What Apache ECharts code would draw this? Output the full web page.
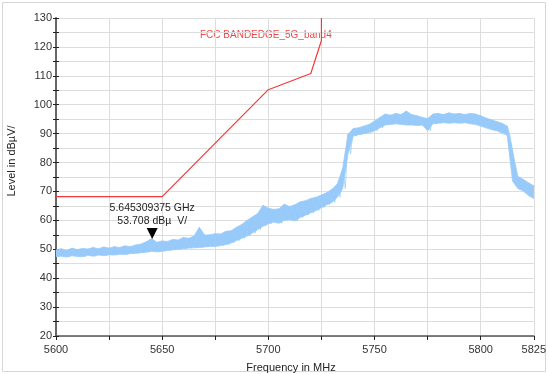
<!DOCTYPE html>
<html><head><meta charset="utf-8">
<script src="https://cdn.jsdelivr.net/npm/echarts@6/dist/echarts.min.js"></script>
<style>html,body{margin:0;padding:0;background:#fff}#c{width:549px;height:374px}</style>
</head><body><div id="c"></div>
<script>
// Frequencies (MHz) of the trace envelope samples
var freqStart = 5600, freqStep = 2.5;
// Lower envelope of the measured trace (dBµV/m)
var traceLow = [47.5,47.6,47.3,47.8,47.5,47.4,47.9,47.6,48.0,47.8,
48.1,48.0,48.3,48.2,48.5,48.6,48.8,49.0,49.3,49.1,
49.3,49.6,49.8,50.0,50.2,50.4,50.5,50.6,50.8,51.0,
51.0,51.3,51.6,52.2,53.0,53.8,54.6,55.6,56.8,58.0,
58.8,59.4,59.0,60.0,60.2,59.8,61.0,61.8,62.6,63.4,
64.4,65.4,66.2,68.0,71.0,83.0,89.2,89.6,90.0,90.4,
91.0,92.0,93.0,93.2,93.4,93.2,93.0,93.0,92.8,93.0,
91.0,93.4,93.6,93.8,93.6,93.8,93.6,93.8,93.4,93.2,
92.6,92.0,91.4,91.0,90.2,89.4,73.6,71.0,70.2,68.6,67.6];
// Upper envelope of the measured trace (dBµV/m)
var traceHigh = [49.8,50.2,49.6,50.4,49.9,50.3,50.1,50.6,50.2,50.8,
50.4,50.9,50.6,51.2,50.9,51.5,51.8,52.6,53.7,52.4,
52.9,52.7,53.4,53.2,54.1,53.8,54.6,57.6,54.9,55.0,
55.4,55.3,56.2,56.4,57.6,58.6,60.0,61.2,62.4,65.2,
64.2,63.8,64.0,65.6,64.8,65.4,66.4,66.8,67.6,68.0,
68.8,69.6,70.8,72.6,78.0,89.8,91.8,92.0,92.6,93.2,
94.4,95.6,96.8,96.4,97.0,96.6,97.8,96.6,96.2,95.6,
95.2,96.8,97.0,96.6,97.2,96.8,97.0,96.6,97.0,96.8,
96.2,95.4,94.8,94.2,93.6,92.6,84.0,75.2,74.2,73.0,72.0];
// FCC band-edge limit line
var limitFreq = [5600, 5650, 5700, 5720, 5725, 5725];
var limitLevel = [68.2, 68.2, 105.2, 110.8, 122.2, 130];
var limitName = 'FCC BANDEDGE_5G_band4';
// Marker
var markerFreq = 5645.309375, markerLevel = 53.708;
var markerText = ['5.645309375 GHz', '53.708 dBµ  V/'];
var xTitle = 'Frequency in MHz', yTitle = 'Level in dBµV/';

var freqs = traceLow.map(function (_, i) { return freqStart + i * freqStep; });
var zig = [];
for (var i = 0; i < traceLow.length; i++) {
  zig.push([freqs[i], traceHigh[i]]);
  if (i < traceLow.length - 1) zig.push([freqs[i] + freqStep / 2, traceLow[i]]);
}
var limitData = limitFreq.map(function (f, i) { return [f, limitLevel[i]]; });

var font = 'Liberation Sans, Arial, sans-serif';
var blue = '#99cbfa';
var chart = echarts.init(document.getElementById('c'));
chart.setOption({
  animation: false,
  grid: {left: 56, right: 13, top: 18, bottom: 38},
  xAxis: [{
    type: 'value', min: 5600, max: 5825, interval: 25,
    axisLine: {lineStyle: {color: '#555', width: 1.5}},
    axisTick: {show: true, length: 4, lineStyle: {color: '#222'}},
    axisLabel: {color: '#333', fontSize: 11, fontFamily: font, margin: 8,
      formatter: function (v) { return (v % 50 === 0 || v === 5825) ? String(v) : ''; }},
    splitLine: {lineStyle: {color: '#dddddd'}}
  }],
  yAxis: [{
    type: 'value', min: 20, max: 130, interval: 5,
    axisLine: {show: true, lineStyle: {color: '#666', width: 2}},
    axisTick: {show: true, length: 3, lineStyle: {color: '#222'}},
    axisLabel: {color: '#333', fontSize: 11, fontFamily: font, margin: 4,
      formatter: function (v) { return v % 10 === 0 ? String(v) : ''; }},
    splitLine: {lineStyle: {color: '#dddddd'}}
  }, {
    type: 'value', min: 20, max: 130, interval: 5, position: 'left',
    axisLine: {show: false}, axisLabel: {show: false}, splitLine: {show: false},
    axisTick: {show: true, inside: true, length: 3, lineStyle: {color: '#222'}}
  }],
  series: [{
    type: 'custom', silent: true, z: 2, clip: true,
    data: [[freqStart, traceLow[0]]],
    renderItem: function (params, api) {
      var pts = [];
      for (var k = 0; k < freqs.length; k++) pts.push(api.coord([freqs[k], traceHigh[k]]));
      for (var k2 = freqs.length - 1; k2 >= 0; k2--) pts.push(api.coord([freqs[k2], traceLow[k2]]));
      return {type: 'polygon', shape: {points: pts}, style: {fill: blue, stroke: blue, lineWidth: 0.8}};
    }
  }, {
    type: 'line', data: zig, symbol: 'none', clip: true,
    lineStyle: {color: '#95c8f9', width: 0.7}, z: 3,
    markPoint: {
      symbol: 'triangle', symbolRotate: 180, symbolSize: [11, 11], symbolOffset: [0, -5],
      itemStyle: {color: '#000'},
      label: {show: true, position: 'top', distance: 0, offset: [0, 0], color: '#222', fontSize: 10.5,
        fontFamily: font, lineHeight: 13, align: 'center', formatter: markerText.join('\n')},
      data: [{coord: [markerFreq, markerLevel]}]
    }
  }, {
    type: 'line', data: limitData, symbol: 'none', clip: true,
    lineStyle: {color: '#f23a3a', width: 1.2}, z: 4
  }],
  graphic: [
    {type: 'rect', shape: {x: 2.5, y: 2.5, width: 543, height: 369},
      style: {fill: 'none', stroke: '#d6d6d6', lineWidth: 1}, z: -1},
    {type: 'text', left: 200, top: 30, style: {text: limitName, fill: '#f04848', font: '10px ' + font}},
    {type: 'text', x: 291, y: 362, style: {text: xTitle, fill: '#222', font: '11px ' + font, textAlign: 'center'}},
    {type: 'text', x: 6, y: 161, rotation: Math.PI / 2, style: {text: yTitle, fill: '#222', font: '11px ' + font, textAlign: 'center', textVerticalAlign: 'top'}}
  ]
});
</script></body></html>
